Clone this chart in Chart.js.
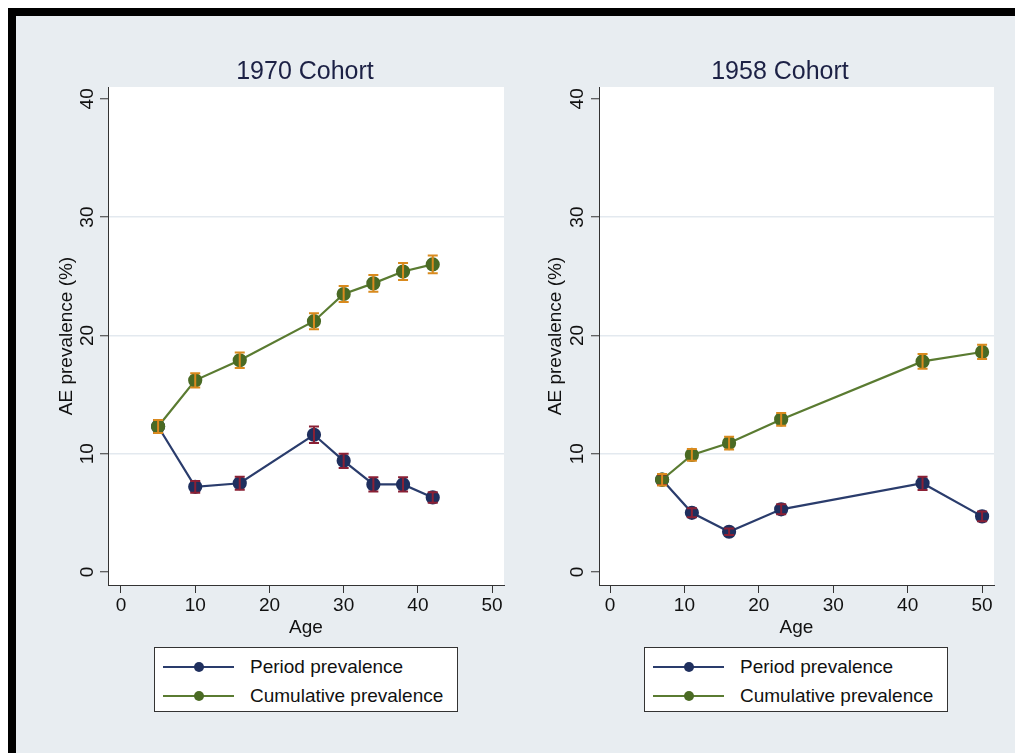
<!DOCTYPE html>
<html>
<head>
<meta charset="utf-8">
<script src="https://cdn.jsdelivr.net/npm/chart.js@4.4.1/dist/chart.umd.min.js"></script>
<style>
  body { margin: 0; background: #fff; width: 1015px; height: 753px; overflow: hidden; position: relative; font-family: "Liberation Sans", Arial, sans-serif; }
  #frame { position: absolute; left: 8px; top: 8px; right: 0; bottom: 0; background: #e8edf1; border-top: 8px solid #000; border-left: 8px solid #000; }
  canvas { position: absolute; }
  .ptitle { position: absolute; top: 56px; font-size: 25px; color: #1c2145; white-space: nowrap; transform: translateX(-50%); }
  .legend { position: absolute; top: 647px; width: 302px; height: 63px; background: #fff; border: 1px solid #333; }
  .row { position: absolute; left: 0; height: 24px; width: 100%; }
  .row .ln { position: absolute; left: 8px; width: 71px; top: 11px; height: 2px; }
  .row .dot { position: absolute; left: 39px; top: 7px; width: 10px; height: 10px; border-radius: 50%; }
  .row span { position: absolute; left: 95px; top: 0; font-size: 19px; line-height: 24px; color: #111; white-space: nowrap; }
</style>
</head>
<body>
<div id="frame"></div>
<canvas id="c1970" width="520" height="640" style="left:16px;top:16px;width:520px;height:640px"></canvas>
<canvas id="c1958" width="505" height="640" style="left:510px;top:16px;width:505px;height:640px"></canvas>
<div class="ptitle" style="left:305px">1970 Cohort</div>
<div class="ptitle" style="left:780px">1958 Cohort</div>
<div class="legend" id="leg1970" style="left:154px"></div>
<div class="legend" id="leg1958" style="left:644px"></div>
<script>
// series names
const seriesNames = ["Period prevalence", "Cumulative prevalence"];
const xTicks = [0, 10, 20, 30, 40, 50];
const yTicks = [0, 10, 20, 30, 40];

// 1970 cohort
const ages1970 = [5, 10, 16, 26, 30, 34, 38, 42];
const period1970 = [12.3, 7.2, 7.5, 11.6, 9.4, 7.4, 7.4, 6.3];
const periodErr1970 = [0.55, 0.5, 0.55, 0.7, 0.6, 0.6, 0.6, 0.45];
const cumul1970 = [12.3, 16.2, 17.9, 21.2, 23.5, 24.4, 25.4, 26.0];
const cumulErr1970 = [0.55, 0.6, 0.65, 0.68, 0.68, 0.7, 0.72, 0.75];

// 1958 cohort
const ages1958 = [7, 11, 16, 23, 42, 50];
const period1958 = [7.8, 5.0, 3.4, 5.3, 7.5, 4.7];
const periodErr1958 = [0.45, 0.38, 0.28, 0.42, 0.56, 0.42];
const cumul1958 = [7.8, 9.9, 10.9, 12.9, 17.8, 18.6];
const cumulErr1958 = [0.48, 0.5, 0.54, 0.54, 0.62, 0.6];

const periodLine = "#2a3c6c", periodDot = "#1f2f5e", periodBar = "#8a2035";
const cumulLine = "#5a7b31", cumulDot = "#4a6a24", cumulBar = "#d98a1e";

// white plot region
const plotBg = {
  id: "plotBg",
  beforeDraw(chart) {
    const a = chart.chartArea;
    chart.ctx.save();
    chart.ctx.fillStyle = "#fff";
    chart.ctx.fillRect(a.left, a.top, a.right - a.left, a.bottom - a.top);
    chart.ctx.restore();
  }
};

const errorBars = {
  id: "errorBars",
  afterDatasetsDraw(chart) {
    const ctx = chart.ctx;
    const xs = chart.scales.x, ys = chart.scales.y;
    // period first, cumulative on top
    chart.data.datasets.slice().sort((a, b) => b.order - a.order).forEach(ds => {
      ctx.save();
      ctx.strokeStyle = ds.errColor;
      ctx.lineWidth = 2;
      ds.data.forEach((p, i) => {
        const x = xs.getPixelForValue(p.x);
        const lo = ys.getPixelForValue(p.y - ds.err[i]);
        const hi = ys.getPixelForValue(p.y + ds.err[i]);
        ctx.beginPath();
        ctx.moveTo(x, lo); ctx.lineTo(x, hi);
        ctx.moveTo(x - 5, lo); ctx.lineTo(x + 5, lo);
        ctx.moveTo(x - 5, hi); ctx.lineTo(x + 5, hi);
        ctx.stroke();
      });
      ctx.restore();
    });
  }
};

function makeChart(id, ages, period, periodErr, cumul, cumulErr, lay) {
  const pts = (vals) => ages.map((a, i) => ({ x: a, y: vals[i] }));
  return new Chart(document.getElementById(id), {
    type: "line",
    data: {
      datasets: [
        { label: seriesNames[0], data: pts(period), err: periodErr, errColor: periodBar, order: 2,
          borderColor: periodLine, backgroundColor: periodDot, pointBackgroundColor: periodDot,
          pointBorderColor: periodDot, borderWidth: 2.2, pointRadius: 6, tension: 0 },
        { label: seriesNames[1], data: pts(cumul), err: cumulErr, errColor: cumulBar, order: 1,
          borderColor: cumulLine, backgroundColor: cumulDot, pointBackgroundColor: cumulDot,
          pointBorderColor: cumulDot, borderWidth: 2.2, pointRadius: 6, tension: 0 }
      ]
    },
    options: {
      responsive: false,
      animation: false,
      events: [],
      layout: { padding: { left: lay.padLeft, top: 71, right: lay.padRight, bottom: 0 } },
      plugins: { legend: { display: false }, tooltip: { enabled: false } },
      scales: {
        x: {
          type: "linear", min: lay.xMin, max: 51.6,
          afterBuildTicks: s => { s.ticks = xTicks.map(v => ({ value: v })); },
          afterFit: s => { s.height = 71; },
          grid: { drawOnChartArea: false, tickLength: 8, tickColor: "#333", tickWidth: 1 },
          border: { display: true, color: "#333", width: 1 },
          ticks: { padding: 1, color: "#111", font: { family: "Liberation Sans", size: 19 }, maxRotation: 0 },
          title: { display: true, text: "Age", color: "#111", font: { family: "Liberation Sans", size: 19 },
                   padding: { top: 0, bottom: 17 } }
        },
        y: {
          type: "linear", min: -1.1, max: 41,
          afterBuildTicks: s => { s.ticks = yTicks.map(v => ({ value: v })); },
          afterFit: s => { s.width = lay.yWidth; },
          grid: {
            color: c => (c.tick && (c.tick.value === 0 || c.tick.value === 40)) ? "rgba(0,0,0,0)" : "#e3e9ef",
            lineWidth: 1.5, tickLength: 8, tickColor: "#333", tickWidth: 1
          },
          border: { display: true, color: "#333", width: 1 },
          ticks: { padding: lay.tickPad, crossAlign: "center", minRotation: 90, maxRotation: 90,
                   color: "#111", font: { family: "Liberation Sans", size: 19 } },
          title: { display: true, text: "AE prevalence (%)", color: "#111",
                   font: { family: "Liberation Sans", size: 19 }, padding: { top: 4, bottom: 0 } }
        }
      }
    },
    plugins: [plotBg, errorBars]
  });
}

function makeLegend(id) {
  const el = document.getElementById(id);
  const cols = [[periodLine, periodDot], [cumulLine, cumulDot]];
  seriesNames.forEach((name, i) => {
    const row = document.createElement("div");
    row.className = "row";
    row.style.top = (7 + i * 29) + "px";
    row.innerHTML = `<div class="ln" style="background:${cols[i][0]}"></div>
      <div class="dot" style="background:${cols[i][1]}"></div><span>${name}</span>`;
    el.appendChild(row);
  });
}

makeChart("c1970", ages1970, period1970, periodErr1970, cumul1970, cumulErr1970,
  { padLeft: 35, yWidth: 57, padRight: 32, xMin: -1.75, tickPad: 2 });
makeChart("c1958", ages1958, period1958, periodErr1958, cumul1958, cumulErr1958,
  { padLeft: 30, yWidth: 59, padRight: 21, xMin: -1.48, tickPad: 3 });
makeLegend("leg1970");
makeLegend("leg1958");
</script>
</body>
</html>
